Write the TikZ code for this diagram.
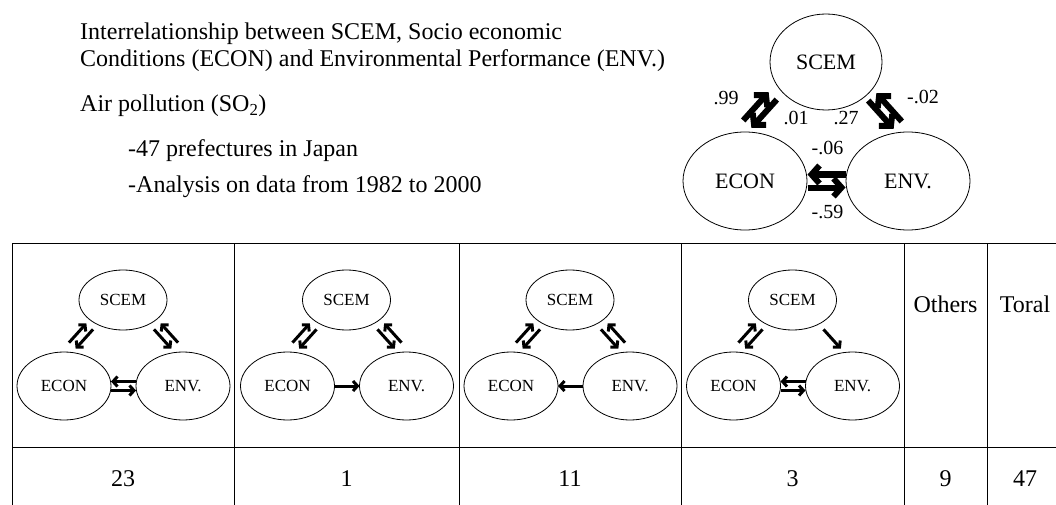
\documentclass[tikz,border=0pt]{standalone}
\usepackage{fontspec}
\setmainfont{Liberation Serif}
\usetikzlibrary{positioning,shapes.geometric,arrows.meta,calc}
\tikzset{
  oval/.style       = {draw, ellipse, inner sep=0pt, line width=0.8pt},
  big oval/.style   = {oval, minimum width=124pt, minimum height=98pt,
                       font=\fontsize{22}{22}\selectfont},
  top oval/.style   = {big oval, minimum width=112pt, minimum height=96pt},
  small oval/.style = {oval, minimum width=94pt, minimum height=68pt,
                       font=\fontsize{17}{17}\selectfont},
  cell oval/.style  = {small oval, minimum width=88pt, minimum height=60pt},
  fat/.style        = {line width=6pt, -{Straight Barb[sharp, length=8pt, width=18pt]}},
  slim/.style       = {line width=3pt, -{Straight Barb[sharp, length=4.5pt, width=10pt]}},
  weight/.style     = {font=\fontsize{20}{20}\selectfont, inner sep=0pt},
  txt/.style        = {font=\fontsize{24}{24}\selectfont, anchor=base west, inner sep=0pt},
  cell/.style       = {font=\fontsize{24}{24}\selectfont, anchor=base, inner sep=0pt},
  rule/.style       = {line width=1pt},
  pics/pair/.style 2 args = {code={
    \draw (-#1,-#2) -- (#1,-#2);
    \draw (#1,#2) -- (-#1,#2);}},
  pics/one/.style 2 args  = {code={\draw (-#1,-#2) -- (#1,-#2);}}
}
\begin{document}
\begin{tikzpicture}[x=1pt, y=-1pt]
\useasboundingbox (0,0) rectangle (1056,505);
\fill[white] (0,0) rectangle (1056,505);

% heading
\node[txt] (head1) at (80,40) {Interrelationship between SCEM, Socio economic};
\node[txt] (head2) at (80,67) {Conditions (ECON) and Environmental Performance (ENV.)};
\node[txt] (air) at (80,112) {Air pollution (SO\textsubscript{2})};
\node[txt] (pref) at (128,157) {-47 prefectures in Japan};
\node[txt] (span) at (128,193) {-Analysis on data from 1982 to 2000};

% model with coefficients
\node[top oval] (scem) at (826,62) {SCEM};
\node[big oval] (econ) at (745,181) {ECON};
\node[big oval] (env) at (908,181) {ENV.};
\coordinate (ab) at ([shift={(-66,48)}]scem.center);
\coordinate (bc) at ([shift={(59,49)}]scem.center);
\coordinate (ac) at ($(econ.east)!0.5!(env.west)$);

\pic[fat, rotate=48] at (ab) {pair={19}{5.5}};
\pic[fat, rotate=-48] at (bc) {pair={19}{-5.5}};
\pic[fat] at (ac) {pair={19}{-6.5}};

\node[weight] (econ-scem) at ([shift={(-34,-12)}]ab) {.99};
\node[weight] (scem-econ) at ([shift={(36,8)}]ab) {.01};
\node[weight] (scem-env) at ([shift={(-39,7)}]bc) {.27};
\node[weight] (env-scem) at ([shift={(38,-14)}]bc) {-.02};
\node[weight] (env-econ) at ([shift={(1,-33)}]ac) {-.06};
\node[weight] (econ-env) at ([shift={(1,31)}]ac) {-.59};

% table
\draw[rule] (12,243) -- (1056,243);
\draw[rule] (12,447) -- (1056,447);
\foreach \x in {12,234,459,681,904,987}
  \draw[rule] (\x,243) -- (\x,505);

\foreach \n/\cx in {a/123, b/346.5, c/570, d/792.5} {
  \node[cell oval] (\n-scem) at (\cx,300) {SCEM};
  \node[small oval] (\n-econ) at ([shift={(-59,86)}]\n-scem.center) {ECON};
  \node[small oval] (\n-env) at ([shift={(60,86)}]\n-scem.center) {ENV.};
  \coordinate (\n-ab) at ([shift={(-42,36)}]\n-scem.center);
  \coordinate (\n-bc) at ([shift={(43,36)}]\n-scem.center);
  \coordinate (\n-ac) at ($(\n-econ.east)!0.5!(\n-env.west)$);
}

\pic[slim, rotate=48] at (a-ab) {pair={13}{4.5}};
\pic[slim, rotate=-48] at (a-bc) {pair={13}{-4.5}};
\pic[slim] at (a-ac) {pair={12.5}{-4.5}};

\pic[slim, rotate=48] at (b-ab) {pair={13}{4.5}};
\pic[slim, rotate=-48] at (b-bc) {pair={13}{-4.5}};
\pic[slim] at (b-ac) {one={12.5}{0}};

\pic[slim, rotate=48] at (c-ab) {pair={13}{4.5}};
\pic[slim, rotate=-48] at (c-bc) {pair={13}{-4.5}};
\pic[slim, rotate=180] at (c-ac) {one={12.5}{0}};

\pic[slim, rotate=48] at (d-ab) {pair={13}{4.5}};
\pic[slim, rotate=-48] at (d-bc) {one={13}{-4.5}};
\pic[slim] at (d-ac) {pair={12.5}{-4.5}};

\node[cell] (others) at (945.5,312) {Others};
\node[cell] (total) at (1025,312) {Toral};

\node[cell] (n-a) at (123,486) {23};
\node[cell] (n-b) at (346.5,486) {1};
\node[cell] (n-c) at (570,486) {11};
\node[cell] (n-d) at (792.5,486) {3};
\node[cell] (n-others) at (945.5,486) {9};
\node[cell] (n-total) at (1025,486) {47};
\end{tikzpicture}
\end{document}
